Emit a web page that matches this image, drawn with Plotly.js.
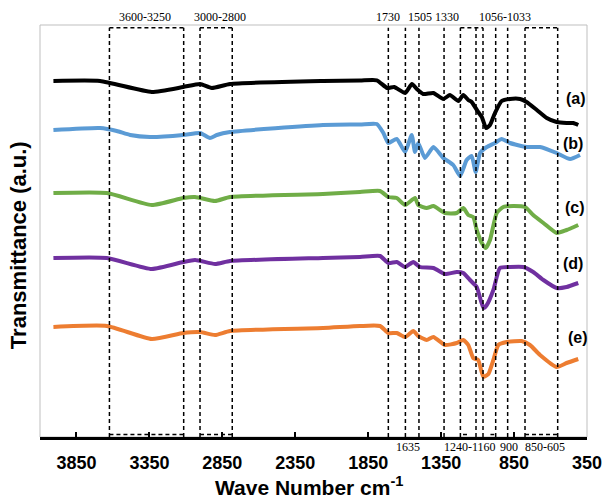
<!DOCTYPE html>
<html>
<head>
<meta charset="utf-8">
<script src="https://cdn.plot.ly/plotly-3.0.1.min.js"></script>
<style>html,body{margin:0;padding:0;background:#fff;}#chart{width:602px;height:501px;}</style>
</head>
<body>
<div id="chart"></div>
<script>
// Wavenumbers (cm-1) and transmittance (a.u., offset traces)
const wnA = [4008,3688,3334,3118,3003,2923,2797,2160,1906,1791,1720,1672,1597,1550,1517,1473,1403,1335,1290,1232,1198,1164,1141,1096,1071,1042,1015,981,935,878,809,764,694,626,558,490,444,410];
const tA  = [357,357,346,351,354,350,354,357,357.5,357.7,350,351,345,354,349,344,345,339,343,337,343,338,336,326,321,310,313,325,337,339,339,336,328,320,316,315,315,313];

const wnB = [4008,3688,3574,3482,3346,3118,3003,2935,2888,2797,2160,1906,1791,1746,1712,1654,1597,1552,1529,1507,1461,1403,1335,1267,1220,1175,1141,1113,1083,1037,981,935,878,764,672,558,466,398];
const tB  = [308,310,307,303,301,303,305,300,303,306,313,313.5,314,305,295,299,286,303,286,295,280,291,280,273,262,278,282,266,285,291,295,299,295,291,291,285,279,283];

const wnC = [4008,3642,3334,3118,3037,2900,2797,2160,1906,1769,1712,1654,1597,1529,1507,1449,1403,1324,1243,1198,1164,1130,1106,1071,1044,1015,969,924,855,775,719,649,558,490,410];
const tC  = [245,245,233,240,241,237,241,244,246,247,241,240,233,240,233,230,232,225,225,230,223,221,208,195,190,198,225,231,232,231,223,215,205,208,213];

const wnD = [4008,3642,3334,3118,3037,2900,2797,2160,1906,1769,1712,1654,1597,1541,1495,1403,1324,1243,1198,1152,1106,1060,1037,992,947,878,787,719,649,558,490,410];
const tD  = [180,180,169,176,178,174,177,180,181,182,175,176,171,176,171,170,164,166,165,158,151,130,133,148,170,171,171,166,158,150,151,155];

const wnE = [4008,3642,3334,3118,3003,2900,2797,2160,1906,1769,1712,1654,1597,1541,1507,1449,1403,1324,1243,1198,1164,1130,1096,1060,1026,992,958,901,798,741,672,558,490,410];
const tE  = [111,112,99,105,106,103,107,110,112,112,105,105,101,107,102,98,101,93,95,98,93,80,78,61,64,78,93,96,97,93,83,71,75,79];

const seriesNames = ['(a)','(b)','(c)','(d)','(e)'];
const seriesColors = ['#000000','#5B9BD5','#70AD47','#7030A0','#ED7D31'];
const seriesLabelPos = [[425,340],[446,295],[432,231],[446,175],[412,101]];

// Band marker lines (cm-1)
const bandLines = [3624,3115,3003,2782,1712,1595,1502,1330,1218,1111,1063,976,894,775,551];
const topBoxes = [[3624,3115],[3003,2782],[1218,1063],[775,551]];
const bottomBoxes = [[3624,3115],[3003,2782],[775,551],[1200,1172],[1012,986]];
const topLabels = ['3600-3250','3000-2800','1730','1505','1330','1056-1033'];
const topLabelX = [3380,2866,1714,1495,1310,912];
const bottomLabels = ['1635','1240-1160','900','850-605'];
const bottomLabelX = [1577,1152,885,638];

const xTitle = 'Wave Number cm<sup>-1</sup>';
const yTitle = 'Transmittance (a.u.)';

const xs = [wnA,wnB,wnC,wnD,wnE];
const ys = [tA,tB,tC,tD,tE];

const traces = xs.map((x,i)=>({
  x: x, y: ys[i], type:'scatter', mode:'lines', name: seriesNames[i],
  line:{color:seriesColors[i], width:4, shape:'spline', smoothing:0.5},
  hoverinfo:'skip'
}));

const dashStyle = {color:'#000', width:1.5, dash:'4px,3px'};
const topP = 0.9934;
const shapes = [
  {type:'rect', xref:'paper', yref:'paper', x0:0, x1:1, y0:0, y1:1, line:{color:'#bfbfbf', width:1}, layer:'below'}
];
bandLines.forEach(v=>shapes.push({type:'line', xref:'x', yref:'paper', x0:v, x1:v, y0:0, y1:topP, line:dashStyle}));
topBoxes.forEach(b=>shapes.push({type:'line', xref:'x', yref:'paper', x0:b[0], x1:b[1], y0:topP, y1:topP, line:dashStyle}));
bottomBoxes.forEach(b=>shapes.push({type:'line', xref:'x', yref:'paper', x0:b[0], x1:b[1], y0:0.006, y1:0.006, line:dashStyle}));

const sans = 'Arial, "Liberation Sans", sans-serif';
const serif = {family:'"Liberation Serif", "Times New Roman", serif', size:12, color:'#000'};
const annotations = [];
topLabels.forEach((t,i)=>annotations.push({text:t, x:topLabelX[i], xref:'x', y:1.019, yref:'paper', showarrow:false, font:serif, xanchor:'center', yanchor:'middle'}));
bottomLabels.forEach((t,i)=>annotations.push({text:t, x:bottomLabelX[i], xref:'x', y:-0.025, yref:'paper', showarrow:false, font:serif, xanchor:'center', yanchor:'middle'}));
seriesNames.forEach((t,i)=>annotations.push({text:t, x:seriesLabelPos[i][0], y:seriesLabelPos[i][1], xref:'x', yref:'y', showarrow:false, font:{family:sans, size:16, weight:'bold', color:'#000'}, xanchor:'center', yanchor:'middle'}));
annotations.push({text:xTitle, xref:'paper', yref:'paper', x:0.492, y:-0.118, showarrow:false, xanchor:'center', yanchor:'middle', font:{family:sans, size:21, weight:'bold', color:'#000'}});
annotations.push({text:yTitle, xref:'paper', yref:'paper', x:-0.04, y:0.466, textangle:-90, showarrow:false, xanchor:'center', yanchor:'middle', font:{family:sans, size:22, weight:'bold', color:'#000'}});

const layout = {
  width:602, height:501,
  margin:{l:40, r:15, t:25, b:64},
  paper_bgcolor:'#fff', plot_bgcolor:'#fff',
  showlegend:false,
  xaxis:{
    range:[4100,350], tickmode:'linear', tick0:350, dtick:500,
    ticks:'inside', ticklen:5, tickwidth:2, tickcolor:'#000',
    showline:true, linecolor:'#000', linewidth:2.5, mirror:false,
    showgrid:false, zeroline:false, automargin:false,
    ticklabelstandoff:8, ticklabeloverflow:'allow',
    tickfont:{family:sans, size:18, weight:'bold', color:'#000'}
  },
  yaxis:{
    range:[1,413], showticklabels:false, ticks:'', showgrid:false, zeroline:false, showline:false
  },
  shapes: shapes,
  annotations: annotations
};

Plotly.newPlot('chart', traces, layout, {displayModeBar:false, staticPlot:true});
</script>
</body>
</html>
